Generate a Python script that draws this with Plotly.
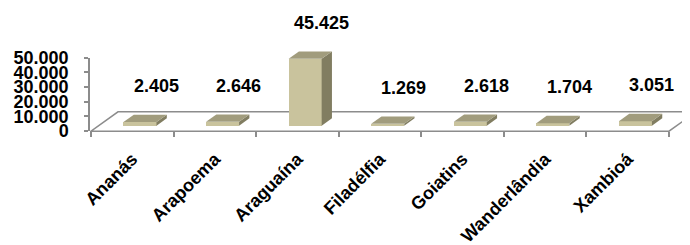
import plotly.graph_objects as go

# ---- data ----
categories = ["Ananás", "Arapoema", "Araguaína", "Filadélfia", "Goiatins", "Wanderlândia", "Xambioá"]
values = [2405, 2646, 45425, 1269, 2618, 1704, 3051]
y_ticks = [0, 10000, 20000, 30000, 40000, 50000]

# ---- pseudo-3D projection constants (axis units) ----
PX_PER_CAT = 82.57            # horizontal pixels per category
UNITS_PER_PX = 50000 / 80     # vertical value units per pixel
DXF = 27 / PX_PER_CAT         # floor depth, x
DYF = 21 * UNITS_PER_PX       # floor depth, y
D0, D1 = 0.286, 0.667         # bar depth (front/back) as fraction of floor depth
BAR_W = 0.40

FRONT = "#C9C39D"
TOP = "#A19C7D"
SIDE = "#817D61"
AXIS = "#8C8C8C"
FONT = "Liberation Sans"

def fmt(v):
    return f"{v:,}".replace(",", ".")

fig = go.Figure()

base = D0 * DYF
ddx = (D1 - D0) * DXF
ddy = (D1 - D0) * DYF
xc = [i + D0 * DXF for i in range(len(values))]

# front faces as real bars
fig.add_trace(go.Bar(x=xc, y=values, base=[base] * len(values), width=BAR_W,
                     marker=dict(color=FRONT, line=dict(width=0)),
                     xaxis="x", yaxis="y2", hoverinfo="skip", showlegend=False))

# side and top faces
for c, v in zip(xc, values):
    l, r = c - BAR_W / 2, c + BAR_W / 2
    top = base + v
    fig.add_trace(go.Scatter(x=[r, r, r + ddx, r + ddx, r], y=[base, top, top + ddy, base + ddy, base],
                             fill="toself", fillcolor=SIDE, mode="none", xaxis="x", yaxis="y2",
                             hoverinfo="skip", showlegend=False))
    fig.add_trace(go.Scatter(x=[l, r, r + ddx, l + ddx, l], y=[top, top, top + ddy, top + ddy, top],
                             fill="toself", fillcolor=TOP, mode="none", xaxis="x", yaxis="y2",
                             hoverinfo="skip", showlegend=False))

# invisible trace on the visible value axis
fig.add_trace(go.Scatter(x=[0], y=[0], mode="none", xaxis="x", yaxis="y", hoverinfo="skip", showlegend=False))

n = len(categories)
floor_path = (f"M {-0.5},0 L {n - 0.5},0 L {n - 0.5 + DXF},{DYF} "
              f"L {-0.5 + DXF},{DYF} Z")

# data labels
annotations = []
for i, v in enumerate(values):
    annotations.append(dict(x=i + 0.29, y=base + v, xref="x", yref="y2", text=fmt(v),
                            showarrow=False, yshift=36, xanchor="center", yanchor="middle",
                            font=dict(family=FONT, size=18, color="black", weight="bold")))

# the page body adds an 8px offset, so figure coords = window coords - 8
W, H = 690, 245
OFF = 8
plot_bottom = 133 - OFF      # figure px of plot-area bottom
zero_px = 131 - OFF          # figure px of value 0
top_px = 51 - OFF            # figure px of value 50000
fig.update_layout(
    width=W, height=H,
    margin=dict(l=90 - OFF, r=OFF, t=0, b=H - plot_bottom, pad=0),
    paper_bgcolor="white", plot_bgcolor="rgba(0,0,0,0)",
    separators=",.",
    showlegend=False,
    bargap=0,
    xaxis=dict(range=[-0.5 - 1 / PX_PER_CAT, -0.5 + 599 / PX_PER_CAT], anchor="y",
               tickmode="array", tickvals=list(range(n)), ticktext=categories,
               ticks="", tickangle=-45, showline=False, showgrid=False, zeroline=False,
               ticklabelstandoff=13,
               tickfont=dict(family=FONT, size=18, color="black", weight="bold"),
               minor=dict(tickmode="array", tickvals=[k - 0.5 for k in range(n + 1)],
                          ticks="outside", ticklen=5, tickwidth=1.5, tickcolor=AXIS, showgrid=False)),
    yaxis=dict(domain=[(plot_bottom - zero_px) / plot_bottom, (plot_bottom - top_px) / plot_bottom],
               range=[0, 50000], anchor="x",
               tickmode="array", tickvals=y_ticks, tickformat=",d",
               ticks="outside", ticklen=4, tickwidth=1.5, tickcolor=AXIS,
               showline=True, linecolor=AXIS, linewidth=1.5,
               showgrid=False, zeroline=False, ticklabelstandoff=12,
               tickfont=dict(family=FONT, size=18, color="black", weight="bold")),
    yaxis2=dict(domain=[0, 1],
                range=[-(plot_bottom - zero_px) * UNITS_PER_PX, zero_px * UNITS_PER_PX],
                anchor="x", visible=False, showgrid=False, zeroline=False),
    shapes=[dict(type="path", path=floor_path, xref="x", yref="y2", layer="below",
                 line=dict(color=AXIS, width=1.5), fillcolor="rgba(0,0,0,0)")],
    annotations=annotations,
)

fig.write_html("out.html")
